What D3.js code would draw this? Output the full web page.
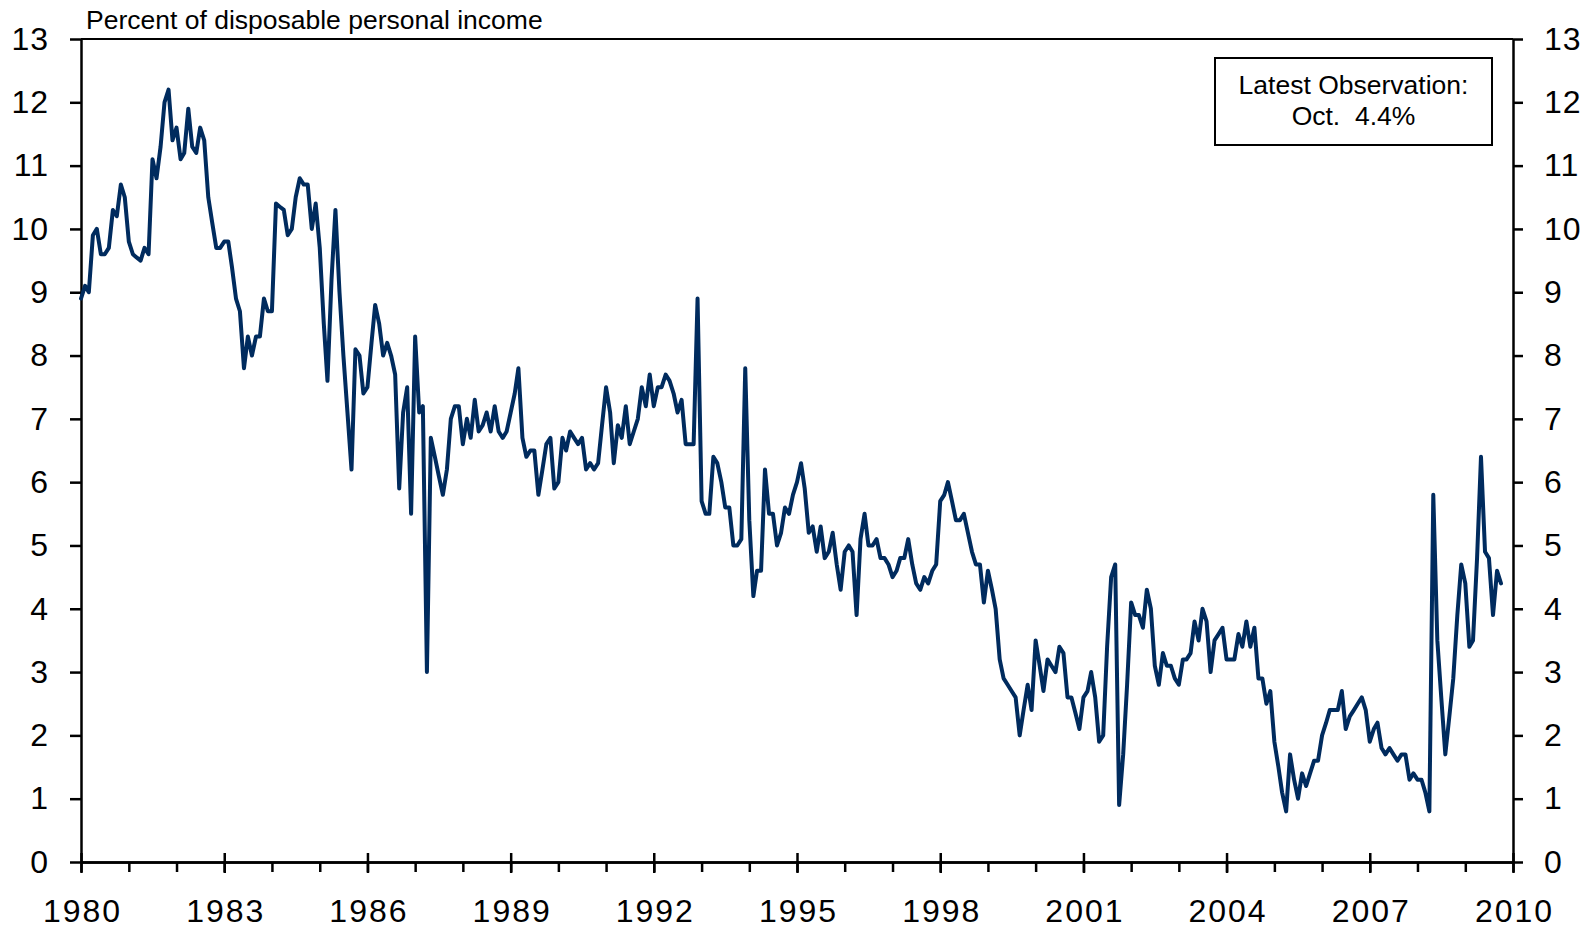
<!DOCTYPE html>
<html><head><meta charset="utf-8">
<script src="https://cdn.jsdelivr.net/npm/d3@7"></script>
<style>
body{margin:0;background:#fff}
svg{display:block}
text{font-family:"Liberation Sans",Arial,sans-serif;fill:#000}
</style>
</head><body>
<svg id="chart" width="1588" height="929"></svg>
<script>
// ---- data: personal saving rate, % of disposable personal income, monthly ----
const startMonth = new Date(1980, 0, 1);
const endMonth = new Date(2010, 0, 1);
const rate1980s = [
  8.9, 9.1, 9.0, 9.9, 10.0, 9.6, 9.6, 9.7, 10.3, 10.2, 10.7, 10.5,
  9.8, 9.6, 9.55, 9.5, 9.7, 9.6, 11.1, 10.8, 11.3, 12.0, 12.2, 11.4,
  11.6, 11.1, 11.2, 11.9, 11.3, 11.2, 11.6, 11.4, 10.5, 10.1, 9.7, 9.7,
  9.8, 9.8, 9.4, 8.9, 8.7, 7.8, 8.3, 8.0, 8.3, 8.3, 8.9, 8.7,
  8.7, 10.4, 10.35, 10.3, 9.9, 10.0, 10.5, 10.8, 10.7, 10.7, 10.0, 10.4,
  9.7, 8.5, 7.6, 9.2, 10.3, 9.0, 8.0, 7.1, 6.2, 8.1, 8.0, 7.4,
  7.5, 8.2, 8.8, 8.5, 8.0, 8.2, 8.0, 7.7, 5.9, 7.1, 7.5, 5.5,
  8.3, 7.1, 7.2, 3.0, 6.7, 6.4, 6.1, 5.8, 6.2, 7.0, 7.2, 7.2,
  6.6, 7.0, 6.7, 7.3, 6.8, 6.9, 7.1, 6.8, 7.2, 6.8, 6.7, 6.8,
  7.1, 7.4, 7.8, 6.7, 6.4, 6.5, 6.5, 5.8, 6.2, 6.6, 6.7, 5.9
];
const rate1990s = [
  6.0, 6.7, 6.5, 6.8, 6.7, 6.6, 6.7, 6.2, 6.3, 6.2, 6.3, 6.9,
  7.5, 7.1, 6.3, 6.9, 6.7, 7.2, 6.6, 6.8, 7.0, 7.5, 7.2, 7.7,
  7.2, 7.5, 7.5, 7.7, 7.6, 7.4, 7.1, 7.3, 6.6, 6.6, 6.6, 8.9,
  5.7, 5.5, 5.5, 6.4, 6.3, 6.0, 5.6, 5.6, 5.0, 5.0, 5.1, 7.8,
  5.4, 4.2, 4.6, 4.6, 6.2, 5.5, 5.5, 5.0, 5.2, 5.6, 5.5, 5.8,
  6.0, 6.3, 5.9, 5.2, 5.3, 4.9, 5.3, 4.8, 4.9, 5.2, 4.7, 4.3,
  4.9, 5.0, 4.9, 3.9, 5.1, 5.5, 5.0, 5.0, 5.1, 4.8, 4.8, 4.7,
  4.5, 4.6, 4.8, 4.8, 5.1, 4.7, 4.4, 4.3, 4.5, 4.4, 4.6, 4.7,
  5.7, 5.8, 6.0, 5.7, 5.4, 5.4, 5.5, 5.2, 4.9, 4.7, 4.7, 4.1,
  4.6, 4.3, 4.0, 3.2, 2.9, 2.8, 2.7, 2.6, 2.0, 2.4, 2.8, 2.4
];
const rate2000s = [
  3.5, 3.1, 2.7, 3.2, 3.1, 3.0, 3.4, 3.3, 2.6, 2.6, 2.35, 2.1,
  2.6, 2.7, 3.0, 2.6, 1.9, 2.0, 3.4, 4.5, 4.7, 0.9, 1.7, 2.8,
  4.1, 3.9, 3.9, 3.7, 4.3, 4.0, 3.1, 2.8, 3.3, 3.1, 3.1, 2.9,
  2.8, 3.2, 3.2, 3.3, 3.8, 3.5, 4.0, 3.8, 3.0, 3.5, 3.6, 3.7,
  3.2, 3.2, 3.2, 3.6, 3.4, 3.8, 3.4, 3.7, 2.9, 2.9, 2.5, 2.7,
  1.9, 1.5, 1.1, 0.8, 1.7, 1.3, 1.0, 1.4, 1.2, 1.4, 1.6, 1.6,
  2.0, 2.2, 2.4, 2.4, 2.4, 2.7, 2.1, 2.3, 2.4, 2.5, 2.6, 2.4,
  1.9, 2.1, 2.2, 1.8, 1.7, 1.8, 1.7, 1.6, 1.7, 1.7, 1.3, 1.4,
  1.3, 1.3, 1.1, 0.8, 5.8, 3.5, 2.6, 1.7, 2.3, 2.9, 3.9, 4.7,
  4.4, 3.4, 3.5, 4.8, 6.4, 4.9, 4.8, 3.9, 4.6, 4.4
];
const yTickValues = [0,1,2,3,4,5,6,7,8,9,10,11,12,13];
const xLabelYears = [1980,1983,1986,1989,1992,1995,1998,2001,2004,2007,2010];
const titleText = "Percent of disposable personal income";
const noteLines = ["Latest Observation:", "Oct.  4.4%"];

// ---- build ----
const values = rate1980s.concat(rate1990s, rate2000s);
const series = values.map((v, i) => ({date: d3.timeMonth.offset(startMonth, i), value: v}));

const L = 81, R = 1513, T = 39, B = 862;
const svg = d3.select("#chart");
const x = d3.scaleTime().domain([startMonth, endMonth]).range([L, R]);
const y = d3.scaleLinear().domain([0, 13]).range([B, T]);

// frame top
svg.append("line").attr("x1", L).attr("x2", R).attr("y1", T).attr("y2", T)
  .attr("stroke", "#000").attr("stroke-width", 2);

// left axis
const gl = svg.append("g").attr("transform", `translate(${L},0)`)
  .call(d3.axisLeft(y).tickValues(yTickValues).tickSize(11).tickPadding(21).tickSizeOuter(0));
// right axis
const gr = svg.append("g").attr("transform", `translate(${R},0)`)
  .call(d3.axisRight(y).tickValues(yTickValues).tickSize(10).tickPadding(21).tickSizeOuter(0));

// bottom axis: minor yearly ticks (down)
const years = d3.timeYear.range(startMonth, d3.timeYear.offset(endMonth, 1));
const gbMinor = svg.append("g").attr("transform", `translate(0,${B})`)
  .call(d3.axisBottom(x).tickValues(years).tickSize(10).tickFormat("").tickSizeOuter(0));
// major ticks with labels (down)
const majorDates = xLabelYears.map(yr => new Date(yr, 0, 1));
const gbMajor = svg.append("g").attr("transform", `translate(0,${B})`)
  .call(d3.axisBottom(x).tickValues(majorDates).tickSize(11).tickPadding(26)
    .tickFormat(d3.timeFormat("%Y")).tickSizeOuter(0));
// major ticks (up)
const gbUp = svg.append("g").attr("transform", `translate(0,${B})`)
  .call(d3.axisTop(x).tickValues(majorDates).tickSize(9).tickFormat("").tickSizeOuter(0));

[gl, gr, gbMinor, gbMajor, gbUp].forEach(g => {
  g.selectAll(".domain").attr("stroke", "#000").attr("stroke-width", 2.5);
  g.selectAll(".tick line").attr("stroke", "#000").attr("stroke-width", 2.5);
  g.selectAll(".tick text").attr("font-size", "32px")
    .attr("font-family", '"Liberation Sans", Arial, sans-serif').attr("fill", "#000");
});
gl.selectAll(".tick text").style("letter-spacing", "1px");
gr.selectAll(".tick text").style("letter-spacing", "1px");
gbMajor.selectAll(".tick text").style("letter-spacing", "2px").attr("dx", "1px");
gbUp.select(".domain").remove();

// title
svg.append("text").attr("x", 86).attr("y", 29).attr("font-size", "26.5px").text(titleText);

// line
const line = d3.line().x(d => x(d.date)).y(d => y(d.value)).curve(d3.curveLinear);
svg.append("path").datum(series).attr("d", line)
  .attr("fill", "none").attr("stroke", "#002B5E").attr("stroke-width", 4)
  .attr("stroke-linejoin", "round").attr("stroke-linecap", "round");

// note box
const note = svg.append("g");
note.append("rect").attr("x", 1215).attr("y", 58).attr("width", 277).attr("height", 87)
  .attr("fill", "#fff").attr("stroke", "#000").attr("stroke-width", 2);
note.selectAll("text.n").data(noteLines).enter().append("text")
  .attr("x", 1353.5).attr("y", (d, i) => 94 + i * 31).attr("text-anchor", "middle")
  .attr("font-size", "26.5px").style("white-space", "pre").text(d => d);
</script>
</body></html>
